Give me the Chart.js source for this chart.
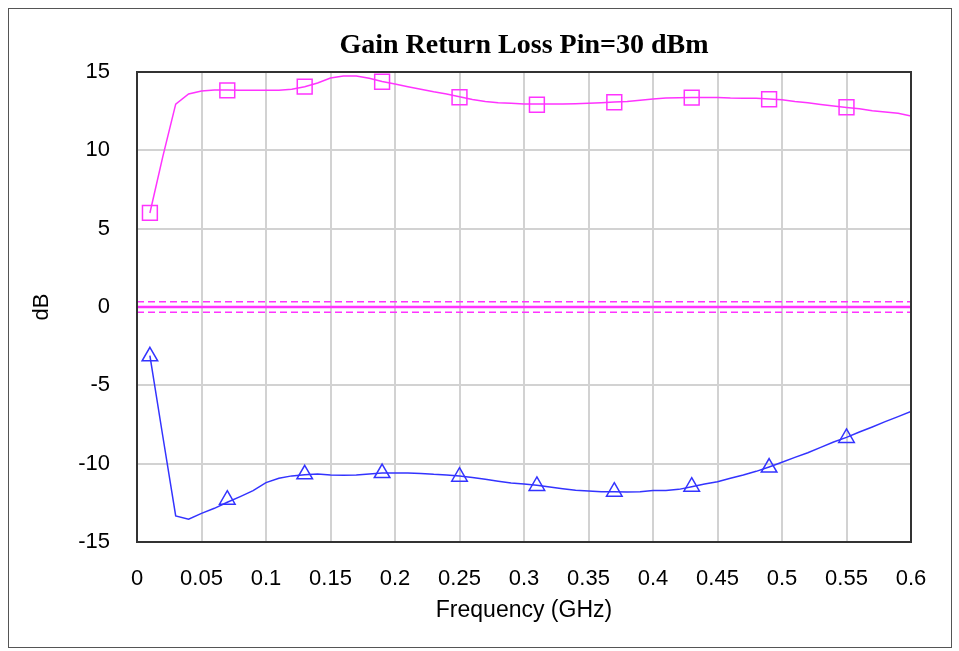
<!DOCTYPE html>
<html>
<head>
<meta charset="utf-8">
<script src="https://cdn.jsdelivr.net/npm/chart.js@4.4.0/dist/chart.umd.min.js"></script>
<style>
  html, body { margin: 0; background: #fff; }
  #wrap { width: 959px; height: 651px; }
</style>
</head>
<body>
<div id="wrap"><canvas id="c" width="959" height="651"></canvas></div>
<script>
const MAGENTA = "#ff33ff";
const BLUE = "#3333ff";
const GRID = "#d2d2d2";

const freqs = [
  0.01, 0.02, 0.03, 0.04, 0.05, 0.06, 0.07, 0.08, 0.09, 0.10,
  0.11, 0.12, 0.13, 0.14, 0.15, 0.16, 0.17, 0.18, 0.19, 0.20,
  0.21, 0.22, 0.23, 0.24, 0.25, 0.26, 0.27, 0.28, 0.29, 0.30,
  0.31, 0.32, 0.33, 0.34, 0.35, 0.36, 0.37, 0.38, 0.39, 0.40,
  0.41, 0.42, 0.43, 0.44, 0.45, 0.46, 0.47, 0.48, 0.49, 0.50,
  0.51, 0.52, 0.53, 0.54, 0.55, 0.56, 0.57, 0.58, 0.59, 0.60,
];

const gain = [
  6.0, 9.6, 12.95, 13.6, 13.78, 13.85, 13.85, 13.84, 13.83, 13.83,
  13.83, 13.9, 14.06, 14.3, 14.62, 14.74, 14.74, 14.6, 14.4, 14.23,
  14.06, 13.9, 13.74, 13.6, 13.42, 13.25, 13.12, 13.04, 13.0, 12.95,
  12.95, 12.95, 12.95, 12.97, 13.0, 13.04, 13.08, 13.12, 13.2, 13.27,
  13.34, 13.36, 13.38, 13.38, 13.38, 13.34, 13.32, 13.32, 13.27, 13.23,
  13.12, 13.04, 12.93, 12.83, 12.74, 12.66, 12.53, 12.44, 12.36, 12.19,
];

const returnLoss = [
  -3.1, -8.25, -13.34, -13.55, -13.17, -12.85, -12.46, -12.1, -11.72, -11.21,
  -10.93, -10.78, -10.7, -10.66, -10.72, -10.74, -10.72, -10.66, -10.6, -10.6,
  -10.6, -10.62, -10.68, -10.72, -10.78, -10.89, -11.0, -11.12, -11.23, -11.3,
  -11.38, -11.49, -11.6, -11.7, -11.74, -11.79, -11.79, -11.81, -11.79, -11.72,
  -11.72, -11.64, -11.47, -11.3, -11.15, -10.93, -10.72, -10.49, -10.21, -9.91,
  -9.6, -9.3, -8.96, -8.62, -8.32, -7.98, -7.66, -7.32, -7.0, -6.66,
];

const markerFreqs = [0.01, 0.07, 0.13, 0.19, 0.25, 0.31, 0.37, 0.43, 0.49, 0.55];
const gainMarkers = [6.01, 13.83, 14.07, 14.38, 13.39, 12.91, 13.07, 13.36, 13.26, 12.75];
const rlMarkers = [-3.15, -12.3, -10.68, -10.6, -10.83, -11.42, -11.79, -11.47, -10.25, -8.36];

// horizontal reference levels near 0 dB
const zeroLevel = 0;
const dashedLevels = [0.33, -0.33];

const xTickValues = [0, 0.05, 0.1, 0.15, 0.2, 0.25, 0.3, 0.35, 0.4, 0.45, 0.5, 0.55, 0.6];
const xTickLabels = ["0", "0.05", "0.1", "0.15", "0.2", "0.25", "0.3", "0.35", "0.4", "0.45", "0.5", "0.55", "0.6"];
const yTickValues = [-15, -10, -5, 0, 5, 10, 15];
const yTickLabels = ["-15", "-10", "-5", "0", "5", "10", "15"];

const xy = (xs, ys) => xs.map((x, i) => ({ x, y: ys[i] }));
const hLine = (y) => [{ x: xTickValues[0], y }, { x: xTickValues[xTickValues.length - 1], y }];

const frames = {
  id: "frames",
  afterDraw(chart) {
    const { ctx, chartArea: a } = chart;
    ctx.save();
    ctx.strokeStyle = "#333";
    ctx.lineWidth = 2;
    ctx.strokeRect(a.left, a.top, a.right - a.left, a.bottom - a.top);
    ctx.strokeStyle = "#555";
    ctx.lineWidth = 1;
    ctx.strokeRect(8.5, 8.5, 943, 639);
    ctx.restore();
  },
};

const lineDs = (data, color, width, dash) => ({
  data,
  borderColor: color,
  borderWidth: width,
  borderDash: dash || [],
  pointRadius: 0,
  tension: 0,
  fill: false,
});

const markerDs = (data, color, style, radius) => ({
  data,
  showLine: false,
  pointStyle: style,
  pointRadius: radius,
  pointBorderWidth: 1.5,
  borderColor: color,
  backgroundColor: "rgba(0,0,0,0)",
});

new Chart(document.getElementById("c"), {
  type: "line",
  data: {
    datasets: [
      lineDs(hLine(zeroLevel), MAGENTA, 2.5),
      ...dashedLevels.map((v) => lineDs(hLine(v), MAGENTA, 1.5, [7, 4])),
      lineDs(xy(freqs, gain), MAGENTA, 1.5),
      lineDs(xy(freqs, returnLoss), BLUE, 1.5),
      markerDs(xy(markerFreqs, gainMarkers), MAGENTA, "rect", 10.5),
      markerDs(xy(markerFreqs, rlMarkers), BLUE, "triangle", 9),
    ],
  },
  options: {
    responsive: false,
    animation: false,
    devicePixelRatio: 1,
    layout: { padding: { left: 0, right: 48, top: 0, bottom: 0 } },
    plugins: {
      legend: { display: false },
      tooltip: { enabled: false },
      title: {
        display: true,
        fullSize: false,
        text: "Gain Return Loss Pin=30 dBm",
        color: "#000",
        font: { family: "Liberation Serif", size: 28, weight: "bold", lineHeight: 1.2 },
        padding: { top: 29, bottom: 9.4 },
      },
    },
    scales: {
      x: {
        type: "linear",
        min: 0,
        max: 0.6,
        afterBuildTicks: (s) => { s.ticks = xTickValues.map((value) => ({ value })); },
        afterFit: (s) => { s.height = 109; },
        grid: { color: GRID, lineWidth: 2, drawTicks: false },
        border: { display: false },
        ticks: {
          color: "#000",
          padding: 24,
          maxRotation: 0,
          autoSkip: false,
          font: { family: "Liberation Sans", size: 22 },
          callback: (v, i) => xTickLabels[i],
        },
        title: {
          display: true,
          text: "Frequency (GHz)",
          color: "#000",
          font: { family: "Liberation Sans", size: 23 },
          padding: { top: 0, bottom: 27 },
        },
      },
      y: {
        min: -15,
        max: 15,
        afterBuildTicks: (s) => { s.ticks = yTickValues.map((value) => ({ value })); },
        afterFit: (s) => { s.width = 137; },
        grid: { color: GRID, lineWidth: 2, drawTicks: false },
        border: { display: false },
        ticks: {
          color: "#000",
          padding: 27,
          autoSkip: false,
          font: { family: "Liberation Sans", size: 22 },
          callback: (v, i) => yTickLabels[i],
        },
        title: {
          display: true,
          text: "dB",
          color: "#000",
          font: { family: "Liberation Sans", size: 22 },
          padding: 29,
        },
      },
    },
  },
  plugins: [frames],
});
</script>
</body>
</html>
